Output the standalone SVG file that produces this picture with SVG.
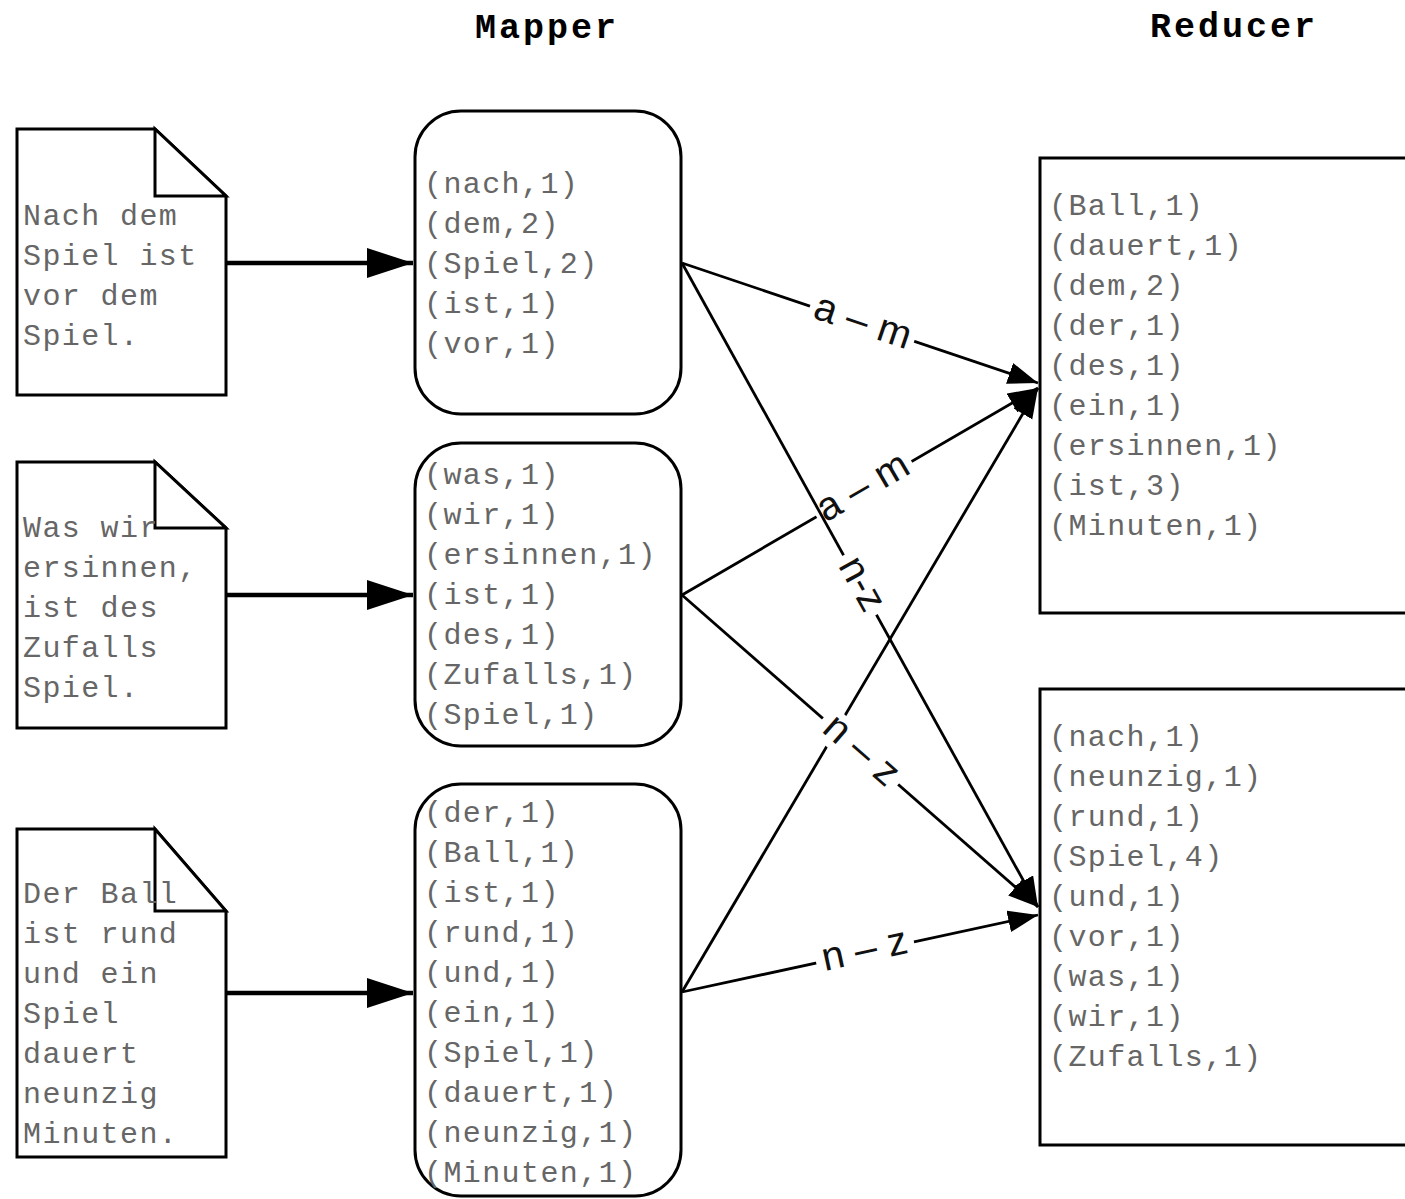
<svg xmlns="http://www.w3.org/2000/svg" width="1405" height="1199" viewBox="0 0 1405 1199">
<style>
.shape{fill:#fff;stroke:#000;stroke-width:3;stroke-linejoin:miter}
.fold{fill:#fff;stroke:#000;stroke-width:3}
.txt{font-family:"Courier New","Liberation Mono",monospace;font-size:30px;letter-spacing:1.4px;fill:#666}
.title{font-family:"Courier New","Liberation Mono",monospace;font-size:35px;font-weight:bold;letter-spacing:3px;fill:#000}
.thick{stroke:#000;stroke-width:4.5;fill:none}
.thin{stroke:#000;stroke-width:2.8;fill:none}
.lbl{font-family:"Liberation Sans",Arial,sans-serif;font-size:40px;fill:#111;text-anchor:middle}
.lblbg{fill:#fff}
</style>
<defs>
<marker id="ah" markerUnits="userSpaceOnUse" markerWidth="32" markerHeight="24" refX="30" refY="11" orient="auto">
<path d="M0,0 L30,11 L0,22 z" fill="#000"/>
</marker>
<marker id="ahT" markerUnits="userSpaceOnUse" markerWidth="48" markerHeight="32" refX="46" refY="15" orient="auto">
<path d="M0,0 L46,15 L0,30 z" fill="#000"/>
</marker>
</defs>
<rect width="1405" height="1199" fill="#fff"/>

<g id="titles">
<text class="title" x="475" y="38">Mapper</text>
<text class="title" x="1150" y="37">Reducer</text>
</g>

<g id="connectors">
<line class="thick" x1="226" y1="263" x2="413" y2="263" marker-end="url(#ahT)"/>
<line class="thick" x1="226" y1="595" x2="413" y2="595" marker-end="url(#ahT)"/>
<line class="thick" x1="226" y1="993" x2="413" y2="993" marker-end="url(#ahT)"/>

<line class="thin" x1="682" y1="992" x2="1038" y2="388" marker-end="url(#ah)"/>

<line class="thin" x1="682" y1="595" x2="1038" y2="388" marker-end="url(#ah)"/>
<g transform="translate(864,489) rotate(-30.2)"><rect class="lblbg" x="-55" y="-18" width="110" height="36"/><text class="lbl" x="0" y="10">a – m</text></g>

<line class="thin" x1="682" y1="263" x2="1038" y2="383" marker-end="url(#ah)"/>
<g transform="translate(862,324) rotate(18.6)"><rect class="lblbg" x="-55" y="-18" width="110" height="36"/><text class="lbl" x="0" y="10">a – m</text></g>

<line class="thin" x1="682" y1="992" x2="1038" y2="915" marker-end="url(#ah)"/>
<g transform="translate(865,952) rotate(-12.2)"><rect class="lblbg" x="-50" y="-18" width="100" height="36"/><text class="lbl" x="0" y="10">n – z</text></g>

<line class="thin" x1="682" y1="595" x2="1038" y2="907" marker-end="url(#ah)"/>
<g transform="translate(860,752) rotate(41.2)"><rect class="lblbg" x="-50" y="-18" width="100" height="36"/><text class="lbl" x="0" y="10">n – z</text></g>

<line class="thin" x1="682" y1="263" x2="1038" y2="907" marker-end="url(#ah)"/>
<g transform="translate(860,585) rotate(61.1)"><rect class="lblbg" x="-34" y="-18" width="68" height="36"/><text class="lbl" x="0" y="10">n-z</text></g>
</g>

<g id="doc1">
<path class="shape" d="M17,129 L155,129 L226,196 L226,395 L17,395 Z"/>
<path class="fold" d="M155,129 L155,196 L226,196 Z"/>
<text class="txt" x="23" y="225">Nach dem</text>
<text class="txt" x="23" y="265">Spiel ist</text>
<text class="txt" x="23" y="305">vor dem</text>
<text class="txt" x="23" y="345">Spiel.</text>
</g>

<g id="doc2">
<path class="shape" d="M17,462 L155,462 L226,528 L226,728 L17,728 Z"/>
<path class="fold" d="M155,462 L155,528 L226,528 Z"/>
<text class="txt" x="23" y="537">Was wir</text>
<text class="txt" x="23" y="577">ersinnen,</text>
<text class="txt" x="23" y="617">ist des</text>
<text class="txt" x="23" y="657">Zufalls</text>
<text class="txt" x="23" y="697">Spiel.</text>
</g>

<g id="doc3">
<path class="shape" d="M17,829 L155,829 L226,911 L226,1157 L17,1157 Z"/>
<path class="fold" d="M155,829 L155,911 L226,911 Z"/>
<text class="txt" x="23" y="903">Der Ball</text>
<text class="txt" x="23" y="943">ist rund</text>
<text class="txt" x="23" y="983">und ein</text>
<text class="txt" x="23" y="1023">Spiel</text>
<text class="txt" x="23" y="1063">dauert</text>
<text class="txt" x="23" y="1103">neunzig</text>
<text class="txt" x="23" y="1143">Minuten.</text>
</g>

<g id="mapper1">
<rect class="shape" x="415" y="111" width="266" height="303" rx="46" ry="46"/>
<text class="txt" x="424" y="193">(nach,1)</text>
<text class="txt" x="424" y="233">(dem,2)</text>
<text class="txt" x="424" y="273">(Spiel,2)</text>
<text class="txt" x="424" y="313">(ist,1)</text>
<text class="txt" x="424" y="353">(vor,1)</text>
</g>

<g id="mapper2">
<rect class="shape" x="415" y="443" width="266" height="303" rx="46" ry="46"/>
<text class="txt" x="424" y="484">(was,1)</text>
<text class="txt" x="424" y="524">(wir,1)</text>
<text class="txt" x="424" y="564">(ersinnen,1)</text>
<text class="txt" x="424" y="604">(ist,1)</text>
<text class="txt" x="424" y="644">(des,1)</text>
<text class="txt" x="424" y="684">(Zufalls,1)</text>
<text class="txt" x="424" y="724">(Spiel,1)</text>
</g>

<g id="mapper3">
<rect class="shape" x="415" y="784" width="266" height="412" rx="46" ry="46"/>
<text class="txt" x="424" y="822">(der,1)</text>
<text class="txt" x="424" y="862">(Ball,1)</text>
<text class="txt" x="424" y="902">(ist,1)</text>
<text class="txt" x="424" y="942">(rund,1)</text>
<text class="txt" x="424" y="982">(und,1)</text>
<text class="txt" x="424" y="1022">(ein,1)</text>
<text class="txt" x="424" y="1062">(Spiel,1)</text>
<text class="txt" x="424" y="1102">(dauert,1)</text>
<text class="txt" x="424" y="1142">(neunzig,1)</text>
<text class="txt" x="424" y="1182">(Minuten,1)</text>
</g>

<g id="reducer1">
<rect class="shape" x="1040" y="158" width="400" height="455"/>
<text class="txt" x="1049" y="215">(Ball,1)</text>
<text class="txt" x="1049" y="255">(dauert,1)</text>
<text class="txt" x="1049" y="295">(dem,2)</text>
<text class="txt" x="1049" y="335">(der,1)</text>
<text class="txt" x="1049" y="375">(des,1)</text>
<text class="txt" x="1049" y="415">(ein,1)</text>
<text class="txt" x="1049" y="455">(ersinnen,1)</text>
<text class="txt" x="1049" y="495">(ist,3)</text>
<text class="txt" x="1049" y="535">(Minuten,1)</text>
</g>

<g id="reducer2">
<rect class="shape" x="1040" y="689" width="400" height="456"/>
<text class="txt" x="1049" y="746">(nach,1)</text>
<text class="txt" x="1049" y="786">(neunzig,1)</text>
<text class="txt" x="1049" y="826">(rund,1)</text>
<text class="txt" x="1049" y="866">(Spiel,4)</text>
<text class="txt" x="1049" y="906">(und,1)</text>
<text class="txt" x="1049" y="946">(vor,1)</text>
<text class="txt" x="1049" y="986">(was,1)</text>
<text class="txt" x="1049" y="1026">(wir,1)</text>
<text class="txt" x="1049" y="1066">(Zufalls,1)</text>
</g>
</svg>
